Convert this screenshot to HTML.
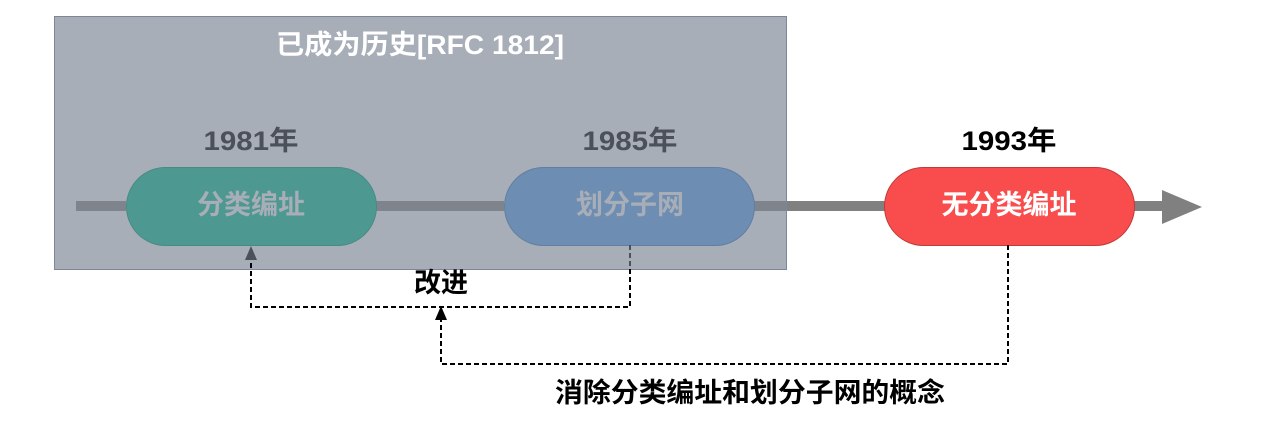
<!DOCTYPE html>
<html><head><meta charset="utf-8"><style>
body{margin:0;background:#fff;}
text{font-family:"Liberation Sans","Noto Sans CJK SC",sans-serif;font-weight:bold;}
</style></head><body>
<svg width="1287" height="441" viewBox="0 0 1287 441">
<rect x="54.5" y="16.5" width="732" height="253" fill="#a8aeb8" stroke="#7d8797" stroke-width="1"/>
<line x1="76" y1="206" x2="126" y2="206" stroke="#7f848c" stroke-width="10"/>
<line x1="376" y1="206" x2="504" y2="206" stroke="#7f848c" stroke-width="10"/>
<line x1="754" y1="206" x2="786" y2="206" stroke="#7f848c" stroke-width="10"/>
<line x1="787" y1="206" x2="1166" y2="206" stroke="#808080" stroke-width="10"/>
<polygon points="1162,190 1202,207 1162,224" fill="#808080"/>
<rect x="126.5" y="167.5" width="250" height="78" rx="39" fill="#4e9892" stroke="#4a8a86"/>
<rect x="504.5" y="167.5" width="250" height="78" rx="39" fill="#6d8db3" stroke="#627fa2"/>
<rect x="884.5" y="167.5" width="250" height="78" rx="39" fill="#f94d4d" stroke="#c03a3a"/>
<text x="420" y="47" font-size="27" fill="#fff" text-anchor="middle" dominant-baseline="middle" textLength="288" lengthAdjust="spacingAndGlyphs">已成为历史[RFC 1812]</text>
<text x="251" y="143" font-size="27" fill="#4b505a" text-anchor="middle" dominant-baseline="middle" textLength="95" lengthAdjust="spacingAndGlyphs">1981年</text>
<text x="630" y="143" font-size="27" fill="#4b505a" text-anchor="middle" dominant-baseline="middle" textLength="95" lengthAdjust="spacingAndGlyphs">1985年</text>
<text x="1009" y="143" font-size="27" fill="#000" text-anchor="middle" dominant-baseline="middle" textLength="95" lengthAdjust="spacingAndGlyphs">1993年</text>
<text x="251" y="207" font-size="27" fill="#a8aeb8" text-anchor="middle" dominant-baseline="middle">分类编址</text>
<text x="630" y="207" font-size="27" fill="#a8aeb8" text-anchor="middle" dominant-baseline="middle">划分子网</text>
<text x="1009" y="207" font-size="27" fill="#fff" text-anchor="middle" dominant-baseline="middle">无分类编址</text>
<polyline points="630,245 630,307 251,307 251,258" fill="none" stroke="#000" stroke-width="2" stroke-dasharray="5,3"/>
<polyline points="630,245 630,269" fill="none" stroke="#4b505a" stroke-width="2" stroke-dasharray="5,3"/>
<polygon points="245,260 257,260 251,246" fill="#4b505a"/>
<polyline points="1008,245 1008,364 441,364 441,318" fill="none" stroke="#000" stroke-width="2" stroke-dasharray="5,3"/>
<polygon points="435,320 447,320 441,306" fill="#000"/>
<text x="441" y="285" font-size="27" fill="#000" text-anchor="middle" dominant-baseline="middle">改进</text>
<text x="750" y="395" font-size="27" fill="#000" text-anchor="middle" dominant-baseline="middle" textLength="390" lengthAdjust="spacingAndGlyphs">消除分类编址和划分子网的概念</text>
</svg>
</body></html>
